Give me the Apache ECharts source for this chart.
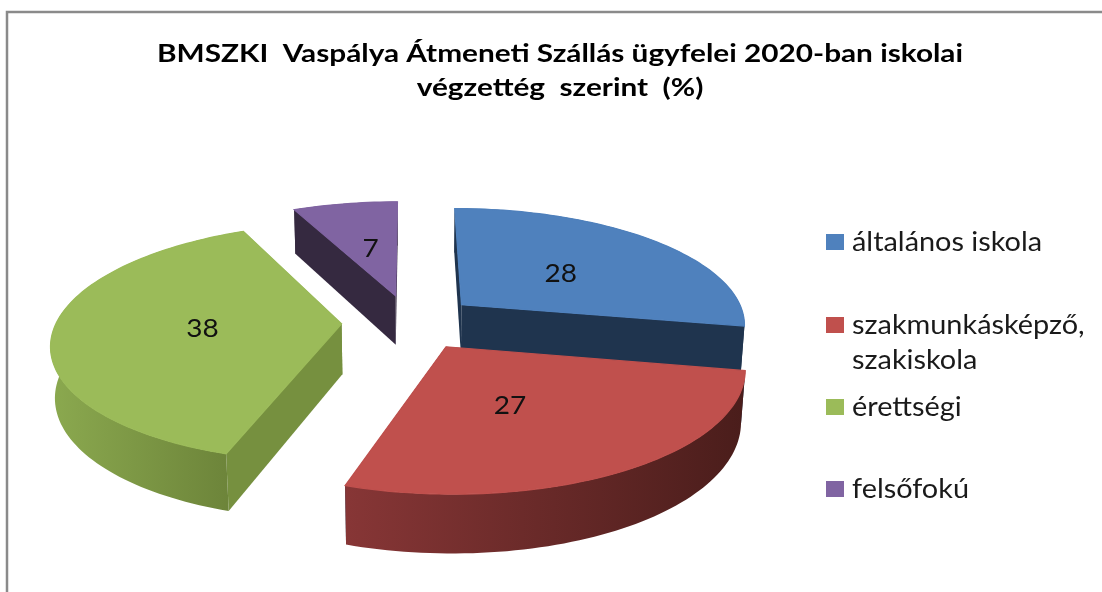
<!DOCTYPE html>
<html><head><meta charset="utf-8">
<style>html,body{margin:0;padding:0;background:#fff}#c{width:1102px;height:592px}</style>
<script src="https://cdn.jsdelivr.net/npm/echarts@6/dist/echarts.min.js"></script>
</head><body><div id="c"></div>
<script>
var titleText = 'BMSZKI  Vaspálya Átmeneti Szállás ügyfelei 2020-ban iskolai\nvégzettég  szerint  (%)';
var categories = ['általános iskola', 'szakmunkásképző,\nszakiskola', 'érettségi', 'felsőfokú'];
var values = [28, 27, 38, 7];

var topColors = ['#4F81BD', '#C0504D', '#9BBB59', '#8064A2'];
var cutColors = ['#1F344E', '#1F344E', '#76903F', '#352940'];
var wallLeft  = ['#1F344E', '#873636', '#8BA94F', '#352940'];
var wallRight = ['#1F344E', '#4A1D1B', '#6A8138', '#352940'];
var labelNudge = [[7, 0], [-12, 7], [-7, 2], [0, -1]];

// projection of the tilted pie
var P = {cx: 410, cy: 322, R: 285, ry: 116, k: 0.155, m: 0.012, H: 51, explode: 0.24, labelR: 0.46};
function project(X, Y, Z) {
  var s = 1 / (1 - P.k * Y + P.m * Z);
  return [P.cx + P.R * X * s, P.cy + (P.ry * Y + P.H * Z) * s];
}
var total = values.reduce(function (a, b) { return a + b; }, 0);

function renderSlice(params, api) {
  var i = params.dataIndex, before = 0;
  for (var j = 0; j < i; j++) before += values[j];
  var a0 = before / total * 2 * Math.PI;
  var a1 = (before + api.value(1)) / total * 2 * Math.PI;
  var mid = (a0 + a1) / 2;
  var ox = P.explode * Math.sin(mid), oy = -P.explode * Math.cos(mid);
  function at(a, r, z) { return project(ox + r * Math.sin(a), oy - r * Math.cos(a), z); }
  var n = Math.max(8, Math.round((a1 - a0) * 40));
  var topArc = [], botArc = [];
  for (var t = 0; t <= n; t++) {
    var a = a0 + (a1 - a0) * t / n;
    topArc.push(at(a, 1, 0));
    botArc.push(at(a, 1, 1));
  }
  var apexT = at(0, 0, 0), apexB = at(0, 0, 1);
  var kids = [];
  function poly(points, fill, stroke) {
    kids.push({type: 'polygon', shape: {points: points}, style: {fill: fill, stroke: stroke, lineWidth: 1.2}});
  }
  // cut faces
  poly([apexT, topArc[0], botArc[0], apexB], cutColors[i], null);
  poly([apexT, topArc[n], botArc[n], apexB], cutColors[i], null);
  // outer wall
  poly(topArc.concat(botArc.slice().reverse()), new echarts.graphic.LinearGradient(0, 0, 1, 0, [
    {offset: 0, color: wallLeft[i]}, {offset: 1, color: wallRight[i]}
  ]), null);
  // top face
  poly([apexT].concat(topArc), topColors[i], topColors[i]);
  // value label
  var lp = at(mid, P.labelR, 0);
  kids.push({type: 'text', x: lp[0] + labelNudge[i][0], y: lp[1] + labelNudge[i][1], scaleX: 1.12, style: {
    x: 0, y: 0, text: String(api.value(1)), align: 'center', verticalAlign: 'middle',
    fontFamily: 'Lato', fontSize: 25, fill: '#111'
  }});
  return {type: 'group', children: kids};
}

var legendTops = [234, 317, 399, 481];
var graphics = [
  {type: 'polyline', shape: {points: [[7, 592], [7, 12], [1102, 12]]},
    style: {stroke: '#8A8A8A', fill: 'none', lineWidth: 2.5}, silent: true},
  {type: 'text', x: 560, y: 71, scaleX: 1.19, style: {
    x: 0, y: 0, text: titleText, align: 'center', verticalAlign: 'middle',
    fontFamily: 'Lato', fontWeight: 'bold', fontSize: 25, lineHeight: 34, fill: '#000'
  }}
];
categories.forEach(function (c, i) {
  graphics.push({type: 'rect', x: 826, y: legendTops[i], shape: {width: 18, height: 16},
    style: {fill: topColors[i]}});
  graphics.push({type: 'text', x: 852, y: legendTops[i] - 9, scaleX: 1.11, style: {
    x: 0, y: 0, text: c, verticalAlign: 'top', fontFamily: 'Lato', fontSize: 26, fill: '#1a1a1a', lineHeight: 35
  }});
});

var chart = echarts.init(document.getElementById('c'), null, {renderer: 'canvas'});
chart.setOption({
  animation: false,
  backgroundColor: '#fff',
  graphic: graphics,
  series: [{
    type: 'custom', coordinateSystem: 'none', renderItem: renderSlice,
    data: categories.map(function (c, i) { return {name: c, value: [i, values[i]]}; })
  }]
});
</script></body></html>
